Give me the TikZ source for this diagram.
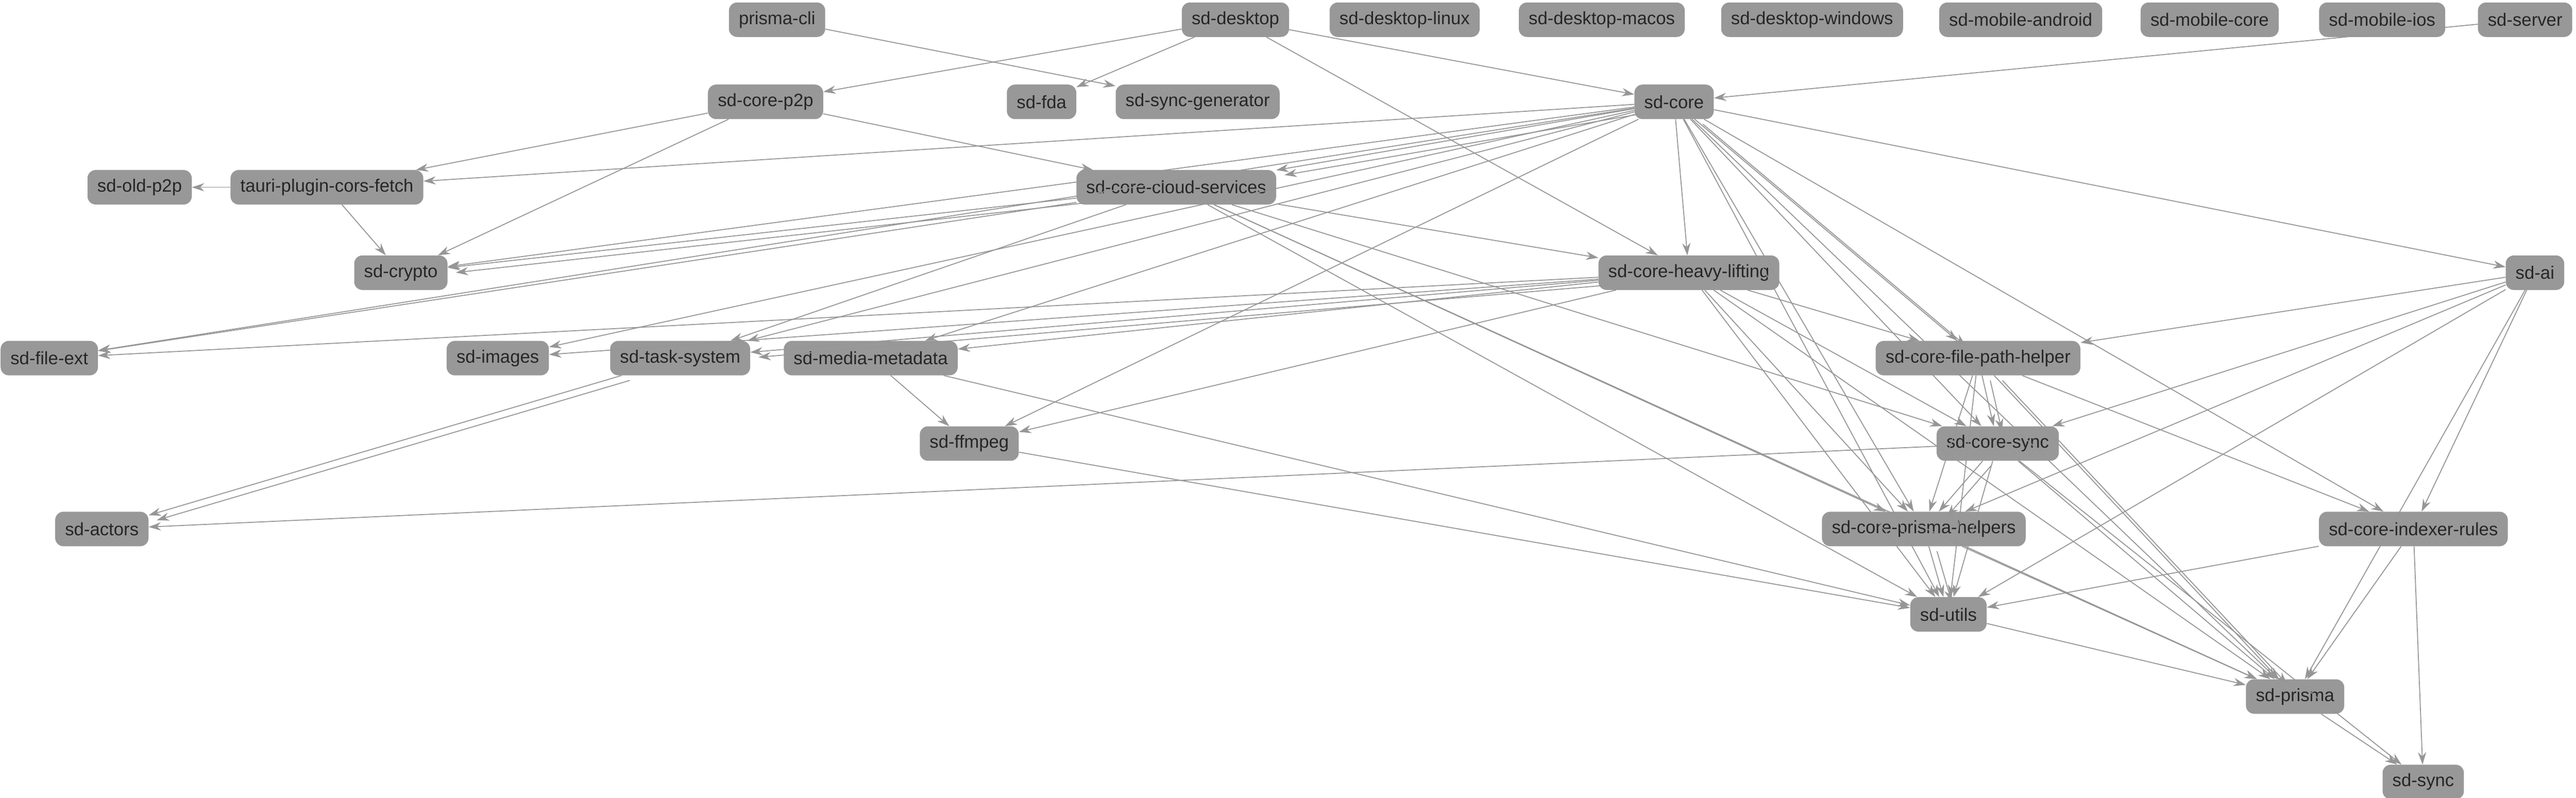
\documentclass[tikz,border=0pt]{standalone}
\usepackage{fontspec}
\setmainfont{Liberation Sans}
\usetikzlibrary{arrows.meta}
\begin{document}
\begin{tikzpicture}[x=0.1cm,y=-0.1cm,
 nd/.style={fill={rgb,255:red,152;green,152;blue,152}, rounded corners=0.5cm, minimum height=2.1cm, inner xsep=0.6cm, font=\fontsize{31}{37}\selectfont, text=black!85},
 ed/.style={draw={rgb,255:red,150;green,150;blue,150}, line width=1.6pt, -{Stealth[length=0.75cm,width=0.5cm]}}]
\useasboundingbox (0,0) rectangle (1568,485.6);
\node[nd] (pcli) at (473,12) {prisma-cli};
\node[nd] (desk) at (752,12) {sd-desktop};
\node[nd] (dlin) at (855,12) {sd-desktop-linux};
\node[nd] (dmac) at (975,12) {sd-desktop-macos};
\node[nd] (dwin) at (1103,12) {sd-desktop-windows};
\node[nd] (mand) at (1230,12) {sd-mobile-android};
\node[nd] (mcore) at (1345,12) {sd-mobile-core};
\node[nd] (mios) at (1450,12) {sd-mobile-ios};
\node[nd] (server) at (1537,12) {sd-server};
\node[nd] (p2p) at (466,62) {sd-core-p2p};
\node[nd] (fda) at (634,62) {sd-fda};
\node[nd] (sgen) at (729,62) {sd-sync-generator};
\node[nd] (core) at (1019,62) {sd-core};
\node[nd] (oldp2p) at (85,114) {sd-old-p2p};
\node[nd] (tauri) at (199,114) {tauri-plugin-cors-fetch};
\node[nd] (cloud) at (716,114) {sd-core-cloud-services};
\node[nd] (crypto) at (244,166) {sd-crypto};
\node[nd] (heavy) at (1028,166) {sd-core-heavy-lifting};
\node[nd] (ai) at (1543,166) {sd-ai};
\node[nd] (fext) at (30,218) {sd-file-ext};
\node[nd] (images) at (303,218) {sd-images};
\node[nd] (task) at (414,218) {sd-task-system};
\node[nd] (media) at (530,218) {sd-media-metadata};
\node[nd] (fph) at (1204,218) {sd-core-file-path-helper};
\node[nd] (ffmpeg) at (590,270) {sd-ffmpeg};
\node[nd] (csync) at (1216,270) {sd-core-sync};
\node[nd] (actors) at (62,322) {sd-actors};
\node[nd] (cph) at (1171,322) {sd-core-prisma-helpers};
\node[nd] (rules) at (1469,322) {sd-core-indexer-rules};
\node[nd] (utils) at (1186,374) {sd-utils};
\node[nd] (prisma) at (1397,424) {sd-prisma};
\node[nd] (sync) at (1475,476) {sd-sync};
\foreach \a/\b in {pcli/sgen,desk/p2p,desk/fda,desk/core,desk/heavy,server/core,
 p2p/tauri,p2p/crypto,p2p/cloud,tauri/oldp2p,tauri/crypto,
 core/tauri,core/cloud,core/crypto,core/fext,core/images,core/task,core/media,core/ffmpeg,core/heavy,core/fph,core/csync,core/cph,core/utils,core/prisma,core/ai,core/rules,
 cloud/crypto,cloud/fext,cloud/task,cloud/heavy,cloud/csync,cloud/cph,cloud/utils,cloud/prisma,
 heavy/fext,heavy/images,heavy/task,heavy/media,heavy/ffmpeg,heavy/fph,heavy/csync,heavy/cph,heavy/utils,heavy/prisma,
 ai/fph,ai/csync,ai/cph,ai/utils,ai/prisma,ai/rules,
 task/actors,csync/actors,media/ffmpeg,media/utils,ffmpeg/utils,
 fph/csync,fph/cph,fph/utils,fph/prisma,fph/rules,
 csync/cph,csync/utils,csync/prisma,csync/sync,
 cph/utils,cph/prisma,rules/utils,rules/prisma,rules/sync,utils/prisma,prisma/sync}
 \draw[ed] (\a) -- (\b);
\foreach \a/\b in {core/fph,core/cloud,cloud/crypto,task/actors,fph/csync,heavy/task,csync/cph,cph/utils,fph/prisma}
 \draw[ed, transform canvas={shift={(0.5cm,-0.3cm)}}] (\a) -- (\b);
\end{tikzpicture}
\end{document}
